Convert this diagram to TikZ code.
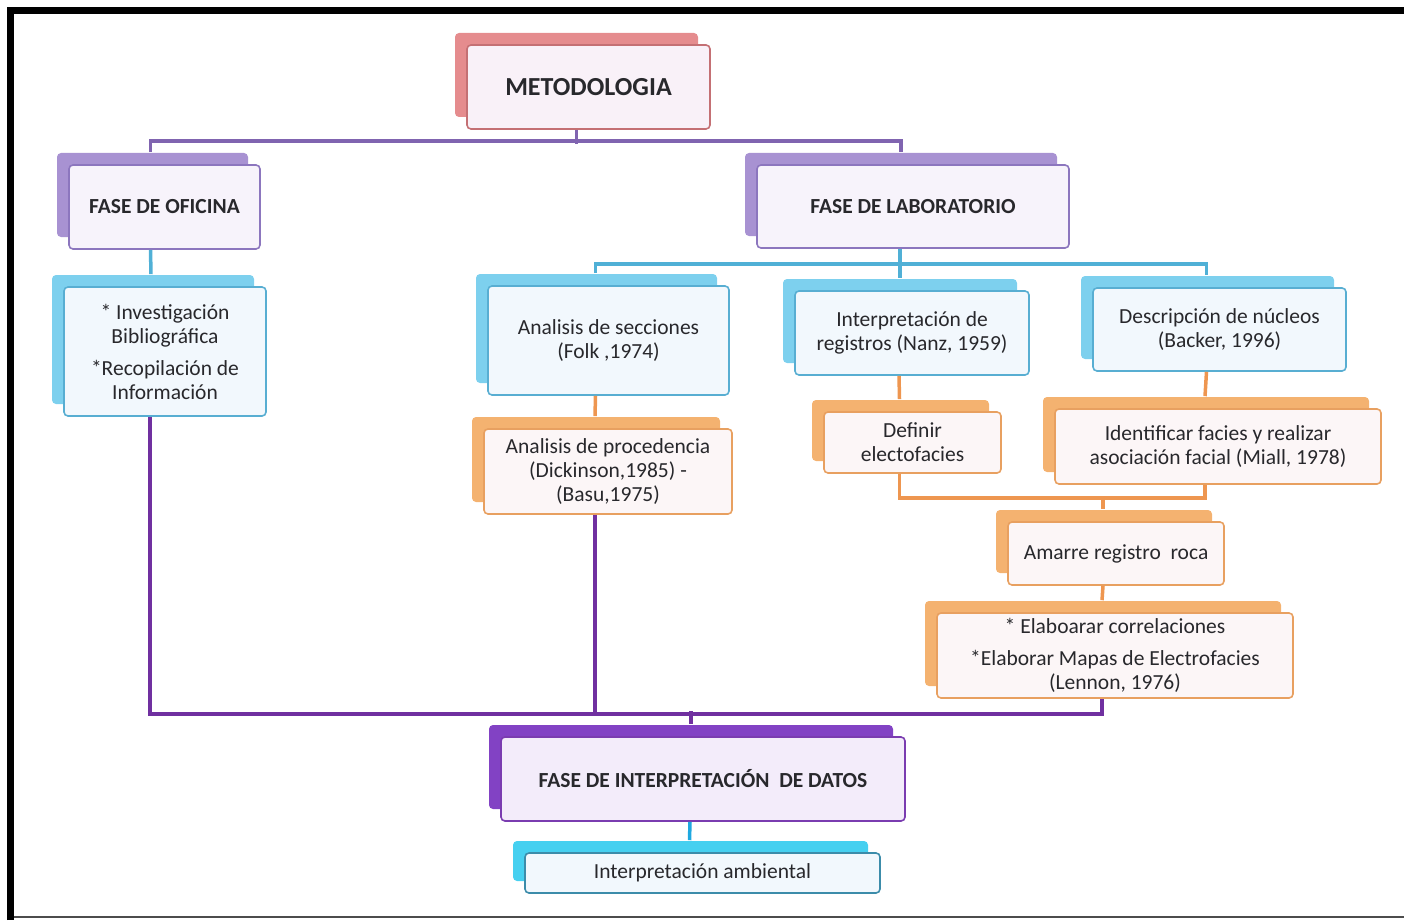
\documentclass[tikz,border=0pt]{standalone}
\usepackage{fontspec}
\setmainfont{Carlito}
\usepackage{tikz}
\usetikzlibrary{positioning,calc,shadows}
\definecolor{mInk}{RGB}{40,40,44}
\definecolor{mRose}{RGB}{196,112,116}
\definecolor{mRoseBack}{RGB}{229,140,142}
\definecolor{mRoseFill}{RGB}{249,241,248}
\definecolor{mLav}{RGB}{140,118,190}
\definecolor{mLavBack}{RGB}{168,146,210}
\definecolor{mLavFill}{RGB}{247,243,251}
\definecolor{mSky}{RGB}{88,174,210}
\definecolor{mSkyBack}{RGB}{125,208,238}
\definecolor{mSkyFill}{RGB}{242,248,253}
\definecolor{mPeach}{RGB}{232,160,96}
\definecolor{mPeachBack}{RGB}{244,178,112}
\definecolor{mPeachFill}{RGB}{252,246,247}
\definecolor{mViolet}{RGB}{122,60,176}
\definecolor{mVioletBack}{RGB}{130,66,196}
\definecolor{mVioletFill}{RGB}{243,236,250}
\definecolor{mTeal}{RGB}{60,140,170}
\definecolor{mCyanBack}{RGB}{70,208,240}
\definecolor{mCyanLine}{RGB}{30,168,224}
\definecolor{mLavLine}{RGB}{128,100,176}
\definecolor{mPlumLine}{RGB}{112,48,160}
\definecolor{mSkyLine}{RGB}{80,176,214}
\definecolor{mPeachLine}{RGB}{238,150,80}
\tikzset{
box/.style={rectangle,rounded corners=4pt,line width=1.6pt,align=center,text=mInk,inner sep=2pt,font=\fontsize{21.5}{24}\selectfont},
headbox/.style={box,font=\bfseries\fontsize{21.5}{24}\selectfont},
rosebox/.style={headbox,draw=mRose,fill=mRoseFill,font=\bfseries\fontsize{26}{28}\selectfont,copy shadow={shadow xshift=-12pt,shadow yshift=12pt,fill=mRoseBack,draw=none}},
lavbox/.style={headbox,draw=mLav,fill=mLavFill,copy shadow={shadow xshift=-12pt,shadow yshift=12pt,fill=mLavBack,draw=none}},
skybox/.style={box,draw=mSky,fill=mSkyFill,copy shadow={shadow xshift=-12pt,shadow yshift=12pt,fill=mSkyBack,draw=none}},
peachbox/.style={box,draw=mPeach,fill=mPeachFill,copy shadow={shadow xshift=-12pt,shadow yshift=12pt,fill=mPeachBack,draw=none}},
violetbox/.style={headbox,draw=mViolet,fill=mVioletFill,copy shadow={shadow xshift=-12pt,shadow yshift=12pt,fill=mVioletBack,draw=none}},
cyanbox/.style={box,draw=mTeal,fill=mSkyFill,copy shadow={shadow xshift=-12pt,shadow yshift=12pt,fill=mCyanBack,draw=none}},
lavline/.style={line width=3.5pt,draw=mLavLine},
plumline/.style={line width=3.5pt,draw=mPlumLine},
skyline/.style={line width=3.5pt,draw=mSkyLine},
peachline/.style={line width=3.5pt,draw=mPeachLine},
cyanline/.style={line width=3.5pt,draw=mCyanLine}
}
\begin{document}
\begin{tikzpicture}[x=1pt,y=-1pt]
\useasboundingbox (0,0) rectangle (1404,920);
% frame
\draw[line width=7pt] (10.5,920) -- (10.5,10.5) -- (1404,10.5);
\draw[line width=1.5pt,draw=black!70] (14,917) -- (1404,917);
% boxes
\node[rosebox,minimum width=243,minimum height=84] (meto) at (588.5,87) {METODOLOGIA};
\node[lavbox,minimum width=191,minimum height=84] (ofi) at (164.5,207) {FASE DE OFICINA};
\node[lavbox,minimum width=312,minimum height=83] (lab) at (913,206.5) {FASE DE LABORATORIO};
\node[skybox,minimum width=202,minimum height=129] (inv) at (165,351.5) {* Investigación\\Bibliográfica\\[8pt]*Recopilación de\\Información};
\node[skybox,minimum width=241,minimum height=109] (sec) at (608.5,340.5) {Analisis de secciones\\(Folk ,1974)};
\node[skybox,minimum width=234,minimum height=84] (reg) at (912,333) {Interpretación de\\registros (Nanz, 1959)};
\node[skybox,minimum width=253,minimum height=83] (nuc) at (1219.5,329.5) {Descripción de núcleos\\(Backer, 1996)};
\node[peachbox,minimum width=248,minimum height=85] (proc) at (608,471.5) {Analisis de procedencia\\(Dickinson,1985) -\\(Basu,1975)};
\node[peachbox,minimum width=177,minimum height=61] (def) at (912.5,442.5) {Definir\\electofacies};
\node[peachbox,minimum width=326,minimum height=75] (ident) at (1218,446.5) {Identificar facies y realizar\\asociación facial (Miall, 1978)};
\node[peachbox,minimum width=216,minimum height=63] (amarre) at (1116,553.5) {Amarre registro\ \ roca};
\node[peachbox,minimum width=356,minimum height=85] (elab) at (1115,655.5) {* Elaboarar correlaciones\\[8pt]*Elaborar Mapas de Electrofacies\\(Lennon, 1976)};
\node[violetbox,minimum width=404,minimum height=84] (datos) at (703,779) {FASE DE INTERPRETACIÓN\ \ DE DATOS};
\node[cyanbox,minimum width=355,minimum height=40] (amb) at (702.5,873) {Interpretación ambiental};
% connectors
\draw[lavline] ($(meto.south)+(-12,0)$) -- ++(0,14);
\draw[lavline] ($(ofi.north)+(-14,-12)$) |- ($(lab.north)+(-12,-23)$) -- ($(lab.north)+(-12,-12)$);
\draw[skyline] ($(ofi.south)+(-14,0)$) -- ($(inv.north)+(-14,-12)$);
\draw[skyline] ($(lab.south)+(-13,0)$) -- ($(reg.north)+(-12,-12)$);
\draw[skyline] ($(sec.north)+(-13,-12)$) |- ($(nuc.north)+(-13,-23)$) -- ($(nuc.north)+(-13,-12)$);
\draw[peachline] ($(sec.south)+(-13,0)$) -- ($(proc.north)+(-13,-12)$);
\draw[peachline] ($(reg.south)+(-13,0)$) -- ($(def.north)+(-13,-12)$);
\draw[peachline] ($(nuc.south)+(-13,0)$) -- ($(ident.north)+(-13,-12)$);
\draw[peachline] ($(def.south)+(-13,0)$) |- ($(ident.south)+(-13,13)$) -- ($(ident.south)+(-13,0)$);
\draw[peachline] ($(amarre.north)+(-13,-12)$) -- ++(0,-13);
\draw[peachline] ($(amarre.south)+(-13,0)$) -- ($(elab.north)+(-13,-12)$);
\draw[plumline] ($(inv.south)+(-15,0)$) |- ($(elab.south)+(-13,15)$) -- ($(elab.south)+(-13,0)$);
\draw[plumline] ($(proc.south)+(-13,0)$) -- ++(0,199);
\draw[plumline] ($(datos.north)+(-12,-12)$) -- ++(0,-13);
\draw[cyanline] ($(datos.south)+(-13,0)$) -- ($(amb.north)+(-13,-12)$);
\end{tikzpicture}
\end{document}
